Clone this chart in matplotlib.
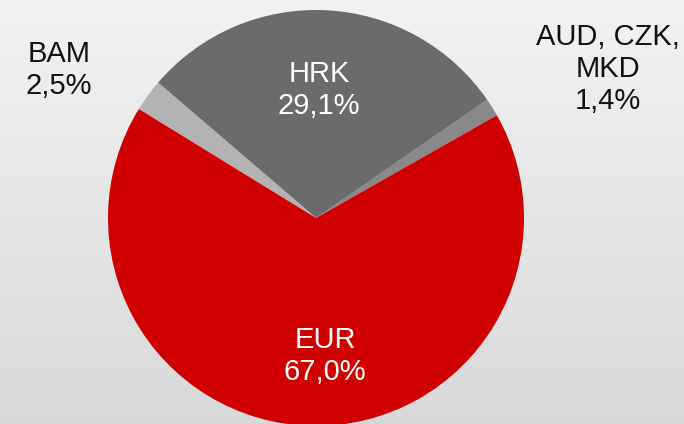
import matplotlib
matplotlib.use("Agg")
import matplotlib.pyplot as plt
import numpy as np

# Data
categories = ["AUD, CZK,\nMKD", "HRK", "BAM", "EUR"]
shares = [1.4, 29.1, 2.5, 67.0]
colors = ["#898989", "#6b6b6b", "#b3b3b3", "#d10000"]
text_colors = ["#111111", "white", "#111111", "white"]

plt.rcParams["font.family"] = ["Liberation Sans", "DejaVu Sans"]

W, H = 684, 424
fig = plt.figure(figsize=(W / 100, H / 100), dpi=100)

# gradient background
bg = fig.add_axes([0, 0, 1, 1], zorder=0)
grad = np.linspace(0.95, 0.85, 256).reshape(-1, 1)
bg.imshow(np.dstack([grad, grad, grad]), aspect="auto", extent=[0, 1, 0, 1])
bg.set_axis_off()

cx, cy, R = 316, 218, 208
ax = fig.add_axes([(cx - R) / W, (H - cy - R) / H, 2 * R / W, 2 * R / H], zorder=1)
ax.set_facecolor("none")
start = 29.6
wedges, _ = ax.pie(shares, colors=colors, startangle=start, counterclock=True,
                   radius=1.0, wedgeprops=dict(linewidth=0))
for w in wedges:
    w.set_clip_on(False)
ax.set_xlim(-1, 1)
ax.set_ylim(-1, 1)
ax.set_aspect("equal")
ax.set_axis_off()

# label positions in pixels (centers)
label_px = [(608, 69), (319, 90), (59, 70), (325, 356)]
for cat, val, tc, (px, py) in zip(categories, shares, text_colors, label_px):
    txt = f"{cat}\n{val:.1f}%".replace(".", ",")
    ax.text((px - cx) / R, (cy - py) / R, txt, ha="center", va="center",
            fontsize=21, color=tc, linespacing=1.2, clip_on=False)

fig.savefig("out.png", dpi=100)
